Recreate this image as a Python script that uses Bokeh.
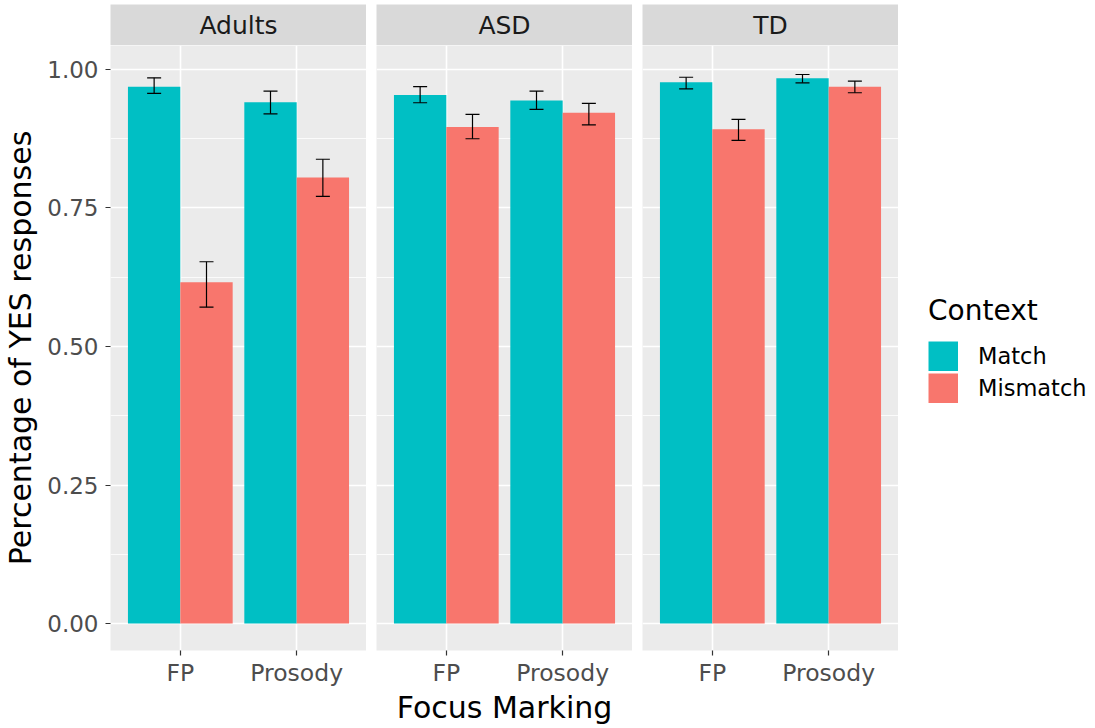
from bokeh.plotting import figure
from bokeh.models import (ColumnDataSource, FactorRange, Range1d, Whisker, TeeHead,
                          FixedTicker, CategoricalTicker, Grid, Legend, LegendItem, Label)
from bokeh.transform import dodge
from bokeh.layouts import row, column
from bokeh.embed import file_html
from bokeh.resources import INLINE

# ---------------- data ----------------
groups = ["Adults", "ASD", "TD"]
focus_levels = ["FP", "Prosody"]
context_levels = ["Match", "Mismatch"]
context_colors = ["#00BFC4", "#F8766D"]

row_group = ["Adults", "Adults", "ASD", "ASD", "TD", "TD"]
row_focus = ["FP", "Prosody", "FP", "Prosody", "FP", "Prosody"]

match_mean = [0.969, 0.941, 0.954, 0.944, 0.977, 0.984]
match_lower = [0.957, 0.920, 0.940, 0.928, 0.965, 0.976]
match_upper = [0.985, 0.961, 0.969, 0.961, 0.986, 0.991]

mismatch_mean = [0.616, 0.805, 0.896, 0.922, 0.892, 0.969]
mismatch_lower = [0.571, 0.771, 0.875, 0.900, 0.872, 0.958]
mismatch_upper = [0.653, 0.838, 0.919, 0.939, 0.910, 0.979]

y_ticks = [0.0, 0.25, 0.5, 0.75, 1.0]
y_tick_labels = ["0.00", "0.25", "0.50", "0.75", "1.00"]
y_minor = [0.125, 0.375, 0.625, 0.875]

x_title = "Focus Marking"
y_title = "Percentage of YES responses"
legend_title = "Context"

# ---------------- style ----------------
FONT = "DejaVu Sans"
PANEL_W, PANEL_H, STRIP_H, STRIP_TOP = 256, 605, 41, 4
LEFT, GAP, BOTTOM = 110, 10, 76
HALF = 0.45

strips, panels = [], []
for i, g in enumerate(groups):
    idx = [k for k, gg in enumerate(row_group) if gg == g]
    src = ColumnDataSource(dict(
        focus=[row_focus[k] for k in idx],
        match_mean=[match_mean[k] for k in idx],
        match_lower=[match_lower[k] for k in idx],
        match_upper=[match_upper[k] for k in idx],
        mismatch_mean=[mismatch_mean[k] for k in idx],
        mismatch_lower=[mismatch_lower[k] for k in idx],
        mismatch_upper=[mismatch_upper[k] for k in idx],
    ))
    mb_left = LEFT if i == 0 else GAP

    # strip header
    s = figure(x_range=Range1d(0, 1), y_range=Range1d(0, 1),
               frame_width=PANEL_W, frame_height=STRIP_H,
               min_border_left=mb_left, min_border_right=0,
               min_border_top=STRIP_TOP, min_border_bottom=0,
               toolbar_location=None, output_backend="svg",
               background_fill_color="#D9D9D9", border_fill_color="white",
               outline_line_color=None, x_axis_location=None, y_axis_location=None)
    s.grid.visible = False
    s.add_layout(Label(x=0.5, y=0.5, text=g, text_align="center", text_baseline="middle",
                       text_font_size="25px", text_font=FONT, text_color="#1A1A1A"))
    strips.append(s)

    # panel
    p = figure(x_range=FactorRange(factors=focus_levels, range_padding=0.1,
                                   range_padding_units="absolute"),
               y_range=Range1d(-0.0487, 1.0433),
               frame_width=PANEL_W, frame_height=PANEL_H,
               min_border_left=mb_left, min_border_right=0,
               min_border_top=0, min_border_bottom=BOTTOM,
               toolbar_location=None, output_backend="svg",
               background_fill_color="#EBEBEB", border_fill_color="white",
               outline_line_color=None,
               y_axis_location="left" if i == 0 else None)
    p.grid.visible = False
    p.add_layout(Grid(dimension=0, ticker=CategoricalTicker(),
                      grid_line_color="white", grid_line_width=1.6))
    p.add_layout(Grid(dimension=1, ticker=FixedTicker(ticks=y_ticks, minor_ticks=y_minor),
                      grid_line_color="white", grid_line_width=1.6,
                      minor_grid_line_color="white", minor_grid_line_width=0.8))

    offsets = [-HALF / 2, HALF / 2]
    for c, (ctx, col) in enumerate(zip(context_levels, context_colors)):
        key = ctx.lower()
        p.vbar(x=dodge("focus", offsets[c], range=p.x_range), top=key + "_mean",
               bottom=0, width=HALF, source=src, fill_color=col, line_color=None)
        w = Whisker(source=src, base=dodge("focus", offsets[c], range=p.x_range),
                    upper=key + "_upper", lower=key + "_lower", level="annotation",
                    line_color="black", line_width=1.2,
                    upper_head=TeeHead(size=14, line_color="black", line_width=1.2),
                    lower_head=TeeHead(size=14, line_color="black", line_width=1.2))
        p.add_layout(w)

    xa = p.xaxis[0]
    xa.axis_line_color = None
    xa.major_tick_line_color = "#333333"
    xa.major_tick_line_width = 1.2
    xa.major_tick_out = 5
    xa.major_tick_in = 0
    xa.minor_tick_line_color = None
    xa.major_label_text_font = FONT
    xa.major_label_text_font_size = "23.5px"
    xa.major_label_text_color = "#4D4D4D"
    xa.major_label_standoff = 3
    if i == 1:
        xa.axis_label = x_title
        xa.axis_label_text_font = FONT
        xa.axis_label_text_font_size = "30px"
        xa.axis_label_text_font_style = "normal"
        xa.axis_label_text_color = "black"
        xa.axis_label_standoff = 0

    if i == 0:
        ya = p.yaxis[0]
        ya.ticker = FixedTicker(ticks=y_ticks)
        ya.major_label_overrides = dict(zip(y_ticks, y_tick_labels))
        ya.axis_line_color = None
        ya.major_tick_line_color = "#333333"
        ya.major_tick_line_width = 1.2
        ya.major_tick_out = 5
        ya.major_tick_in = 0
        ya.minor_tick_line_color = None
        ya.major_label_text_font = FONT
        ya.major_label_text_font_size = "23px"
        ya.major_label_text_color = "#4D4D4D"
        ya.major_label_standoff = 7
        ya.axis_label = y_title
        ya.axis_label_text_font = FONT
        ya.axis_label_text_font_size = "30px"
        ya.axis_label_text_font_style = "normal"
        ya.axis_label_text_color = "black"
        ya.axis_label_standoff = 6
    panels.append(p)

# legend figure (key proxies are single-point lines: invisible in the frame,
# drawn as thick butt-capped strokes = filled squares in the legend)
pl = figure(x_range=Range1d(0, 1), y_range=Range1d(0, 1),
            frame_width=195, frame_height=PANEL_H,
            min_border_left=0, min_border_right=0, min_border_top=0, min_border_bottom=BOTTOM,
            toolbar_location=None, output_backend="svg",
            background_fill_color="white", border_fill_color="white",
            outline_line_color=None, x_axis_location=None, y_axis_location=None)
pl.grid.visible = False
items = []
for ctx, col in zip(context_levels, context_colors):
    r = pl.line(x=[0], y=[0], line_color=col, line_width=30, line_cap="butt")
    items.append(LegendItem(label=ctx, renderers=[r]))
legend = Legend(items=items, location=(30, 247), title=legend_title,
                title_text_font=FONT, title_text_font_size="28px",
                title_text_font_style="normal", title_text_color="black",
                title_standoff=14,
                label_text_font=FONT, label_text_font_size="22.5px", label_text_color="black",
                label_standoff=20, glyph_width=30, glyph_height=30, spacing=2,
                padding=0, margin=0, border_line_color=None, background_fill_alpha=0)
pl.add_layout(legend, "center")

layout = column(row(*strips), row(*panels, pl))
open("out.html", "w").write(file_html(layout, INLINE))
